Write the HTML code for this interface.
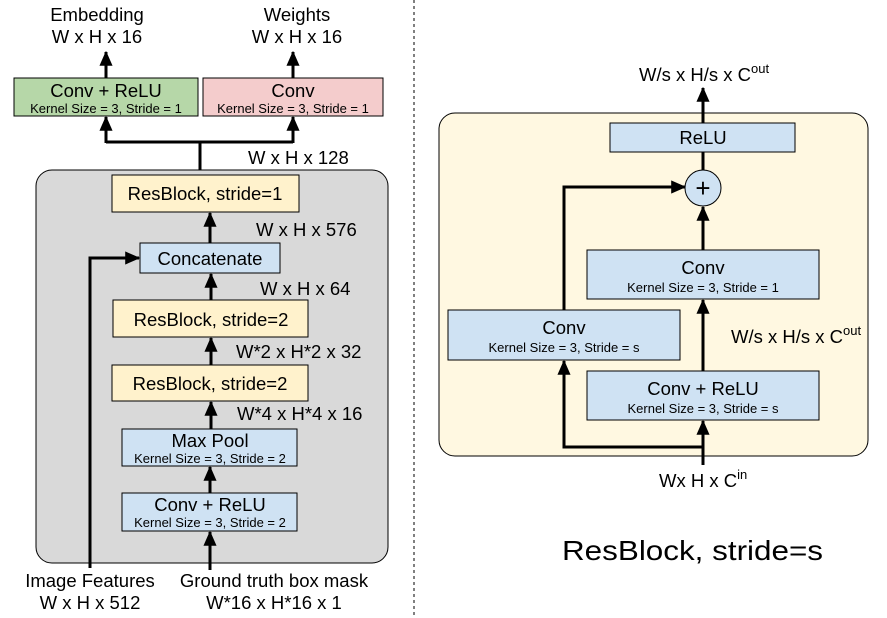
<!DOCTYPE html>
<html><head><meta charset="utf-8"><style>
html,body{margin:0;padding:0;background:#fff;}
svg{display:block;font-family:"Liberation Sans",Arial,sans-serif;}
</style></head><body>
<svg width="887" height="618" viewBox="0 0 887 618" xmlns="http://www.w3.org/2000/svg">
<defs>
<marker id="a" markerWidth="5" markerHeight="4.4" refX="4.6" refY="2.2" orient="auto" markerUnits="strokeWidth">
<path d="M0,0 L5,2.2 L0,4.4 z" fill="#000"/>
</marker>
</defs>
<line x1="414" y1="0" x2="414" y2="618" stroke="#000" stroke-width="1" stroke-dasharray="3,3"/>

<!-- LEFT PANEL -->
<g font-size="18.5" text-anchor="middle" fill="#000">
<text x="97" y="21">Embedding</text>
<text x="97" y="43">W x H x 16</text>
<text x="297" y="21">Weights</text>
<text x="297" y="43">W x H x 16</text>
</g>
<g stroke="#000" stroke-width="3" fill="none">
<line x1="106" y1="78" x2="106" y2="52" marker-end="url(#a)"/>
<line x1="293" y1="78" x2="293" y2="52" marker-end="url(#a)"/>
<polyline points="106,142 293,142"/>
<line x1="106" y1="143" x2="106" y2="117" marker-end="url(#a)"/>
<line x1="293" y1="143" x2="293" y2="117" marker-end="url(#a)"/>
<line x1="200" y1="142" x2="200" y2="175"/>
</g>
<rect x="14" y="78" width="184" height="38" fill="#b6d7a8" stroke="#000" stroke-width="1"/>
<rect x="203" y="78" width="180" height="38" fill="#f4cccc" stroke="#000" stroke-width="1"/>
<g text-anchor="middle" fill="#000">
<text x="106" y="97" font-size="18.5">Conv + ReLU</text>
<text x="106" y="113" font-size="13">Kernel Size = 3, Stride = 1</text>
<text x="293" y="97" font-size="18.5">Conv</text>
<text x="293" y="113" font-size="13">Kernel Size = 3, Stride = 1</text>
</g>
<text x="248" y="164" font-size="18.5">W x H x 128</text>

<rect x="36" y="170" width="352" height="393" rx="16" fill="#d9d9d9" stroke="#000" stroke-width="1"/>

<g stroke="#000" stroke-width="3" fill="none">
<line x1="210" y1="243" x2="210" y2="213" marker-end="url(#a)"/>
<line x1="211" y1="300" x2="211" y2="274" marker-end="url(#a)"/>
<line x1="211" y1="365" x2="211" y2="338" marker-end="url(#a)"/>
<line x1="211" y1="429" x2="211" y2="402" marker-end="url(#a)"/>
<line x1="210" y1="493" x2="210" y2="467" marker-end="url(#a)"/>
<line x1="210" y1="570" x2="210" y2="532" marker-end="url(#a)"/>
<polyline points="90,568 90,258 139,258" marker-end="url(#a)"/>
</g>

<rect x="112" y="175" width="187" height="37" fill="#fff2cc" stroke="#000" stroke-width="1"/>
<rect x="140" y="243" width="140" height="30" fill="#cfe2f3" stroke="#000" stroke-width="1"/>
<rect x="113" y="300" width="195" height="37" fill="#fff2cc" stroke="#000" stroke-width="1"/>
<rect x="112" y="365" width="196" height="36" fill="#fff2cc" stroke="#000" stroke-width="1"/>
<rect x="122" y="429" width="175" height="37" fill="#cfe2f3" stroke="#000" stroke-width="1"/>
<rect x="122" y="493" width="175" height="38" fill="#cfe2f3" stroke="#000" stroke-width="1"/>

<g text-anchor="middle" fill="#000" font-size="18.5">
<text x="205" y="200">ResBlock, stride=1</text>
<text x="210" y="265">Concatenate</text>
<text x="211" y="326">ResBlock, stride=2</text>
<text x="210" y="390">ResBlock, stride=2</text>
<text x="210" y="447">Max Pool</text>
<text x="210" y="511">Conv + ReLU</text>
</g>
<g text-anchor="middle" fill="#000" font-size="13">
<text x="210" y="463">Kernel Size = 3, Stride = 2</text>
<text x="210" y="527">Kernel Size = 3, Stride = 2</text>
</g>
<g fill="#000" font-size="18.5">
<text x="256" y="236">W x H x 576</text>
<text x="260" y="295">W x H x 64</text>
<text x="236" y="358">W*2 x H*2 x 32</text>
<text x="237" y="420">W*4 x H*4 x 16</text>
</g>
<g text-anchor="middle" fill="#000" font-size="18.5">
<text x="90" y="587">Image Features</text>
<text x="90" y="609">W x H x 512</text>
<text x="274" y="587">Ground truth box mask</text>
<text x="274" y="609">W*16 x H*16 x 1</text>
</g>

<!-- RIGHT PANEL -->
<rect x="439" y="113" width="429" height="343" rx="16" fill="#fff8e1" stroke="#000" stroke-width="1"/>
<g stroke="#000" stroke-width="3" fill="none">
<line x1="703" y1="123" x2="703" y2="88" marker-end="url(#a)"/>
<line x1="703" y1="152" x2="703" y2="170"/>
<line x1="703" y1="250" x2="703" y2="207" marker-end="url(#a)"/>
<line x1="703" y1="371" x2="703" y2="300" marker-end="url(#a)"/>
<line x1="703" y1="465" x2="703" y2="421" marker-end="url(#a)"/>
<polyline points="703,447 564,447 564,361" marker-end="url(#a)"/>
<polyline points="564,310 564,187 685,187" marker-end="url(#a)"/>
</g>
<rect x="610" y="123" width="185" height="29" fill="#cfe2f3" stroke="#000" stroke-width="1"/>
<circle cx="703" cy="188" r="18" fill="#cfe2f3" stroke="#000" stroke-width="1"/>
<rect x="587" y="250" width="232" height="49" fill="#cfe2f3" stroke="#000" stroke-width="1"/>
<rect x="448" y="310" width="232" height="50" fill="#cfe2f3" stroke="#000" stroke-width="1"/>
<rect x="587" y="371" width="232" height="49" fill="#cfe2f3" stroke="#000" stroke-width="1"/>
<g text-anchor="middle" fill="#000">
<text x="703" y="144" font-size="18.5">ReLU</text>
<text x="703" y="197" font-size="26">+</text>
<text x="703" y="274" font-size="18.5">Conv</text>
<text x="703" y="292" font-size="13">Kernel Size = 3, Stride = 1</text>
<text x="564" y="334" font-size="18.5">Conv</text>
<text x="564" y="352" font-size="13">Kernel Size = 3, Stride = s</text>
<text x="703" y="395" font-size="18.5">Conv + ReLU</text>
<text x="703" y="413" font-size="13">Kernel Size = 3, Stride = s</text>
</g>
<g fill="#000" font-size="18.5">
<text x="639" y="81">W/s x H/s x C<tspan font-size="13" dy="-8">out</tspan></text>
<text x="731" y="343">W/s x H/s x C<tspan font-size="13" dy="-8">out</tspan></text>
<text x="659" y="487">Wx H x C<tspan font-size="13" dy="-8">in</tspan></text>
</g>
<text x="562" y="560" font-size="28" fill="#000" textLength="261" lengthAdjust="spacingAndGlyphs">ResBlock, stride=s</text>
</svg>
</body></html>
